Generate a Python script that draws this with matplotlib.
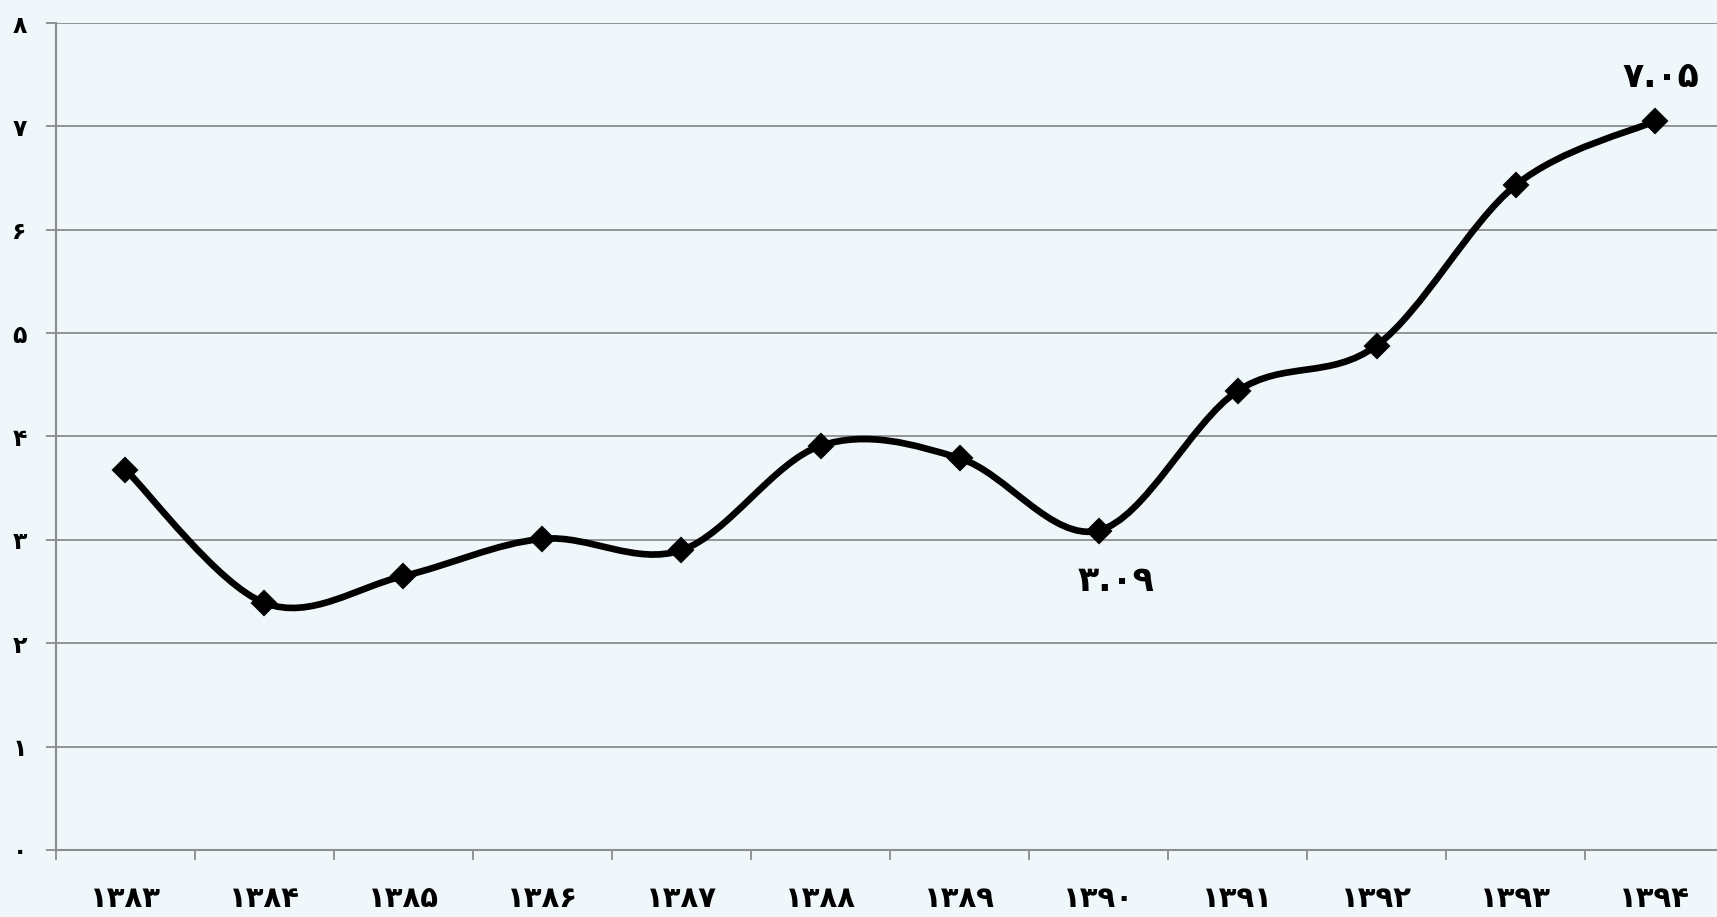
import matplotlib
matplotlib.use("Agg")
import matplotlib.pyplot as plt
from matplotlib.path import Path
from matplotlib.patches import PathPatch
import numpy as np

# data
years = ["۱۳۸۳", "۱۳۸۴", "۱۳۸۵", "۱۳۸۶", "۱۳۸۷", "۱۳۸۸",
         "۱۳۸۹", "۱۳۹۰", "۱۳۹۱", "۱۳۹۲", "۱۳۹۳", "۱۳۹۴"]
values = [3.68, 2.39, 2.65, 3.01, 2.90, 3.91, 3.79, 3.09, 4.44, 4.88, 6.43, 7.05]
y_ticks = [0, 1, 2, 3, 4, 5, 6, 7, 8]
y_tick_labels = ["۰", "۱", "۲", "۳", "۴", "۵", "۶", "۷", "۸"]
notes = {7: "۳.۰۹", 11: "۷.۰۵"}

bg = "#eff7fa"
grid_col = "#8c8c8c"

plt.rcParams["font.family"] = ["DejaVu Sans"]

fig = plt.figure(figsize=(17.17, 9.17), dpi=100, facecolor=bg)
ax = fig.add_axes([0.0326, 0.0731, 0.9715, 0.9018])
ax.set_facecolor(bg)

x = np.arange(len(values))
y = np.array(values)

# smoothed line like a spreadsheet "smoothed line" (Catmull-Rom as Bezier)
verts = [(x[0], y[0])]
codes = [Path.MOVETO]
n = len(x)
for i in range(n - 1):
    p0 = np.array([x[max(i - 1, 0)], y[max(i - 1, 0)]])
    p1 = np.array([x[i], y[i]])
    p2 = np.array([x[i + 1], y[i + 1]])
    p3 = np.array([x[min(i + 2, n - 1)], y[min(i + 2, n - 1)]])
    c1 = p1 + (p2 - p0) / 6.0
    c2 = p2 - (p3 - p1) / 6.0
    verts += [tuple(c1), tuple(c2), tuple(p2)]
    codes += [Path.CURVE4] * 3
curve = PathPatch(Path(verts, codes), facecolor="none", edgecolor="black",
                  lw=4.8, capstyle="round", joinstyle="round", zorder=3)
ax.add_patch(curve)
ax.plot(x, y, linestyle="none", marker="D", markersize=12, color="black",
        markeredgewidth=1.5, zorder=4)

for i, txt in notes.items():
    dy = -50 if i == 7 else 44
    dx = 18 if i == 7 else 6
    ax.annotate(txt, (x[i], y[i]), xytext=(dx * 0.72, dy * 0.72),
                textcoords="offset points", ha="center", va="center",
                fontsize=25, fontweight="bold", color="black")

ax.set_xlim(-0.5, len(values) - 0.5)
ax.set_ylim(0, 8)
ax.set_yticks(y_ticks)
ax.set_yticklabels(y_tick_labels, fontsize=17, fontweight="bold")
ax.set_xticks(x)
ax.set_xticklabels(years, fontsize=21, fontweight="bold")
ax.set_xticks(np.arange(-0.5, len(values)), minor=True)

ax.tick_params(axis="x", which="major", length=0, pad=25)
ax.tick_params(axis="x", which="minor", length=7, width=1.3, color=grid_col)
ax.tick_params(axis="y", which="major", length=7, width=1.3, color=grid_col, pad=14)

ax.yaxis.grid(True, color=grid_col, lw=1.3)
ax.set_axisbelow(True)
for side in ["top", "right"]:
    ax.spines[side].set_visible(False)
for side in ["left", "bottom"]:
    ax.spines[side].set_color(grid_col)
    ax.spines[side].set_linewidth(1.5)

fig.savefig("out.png", dpi=100, facecolor=bg)
